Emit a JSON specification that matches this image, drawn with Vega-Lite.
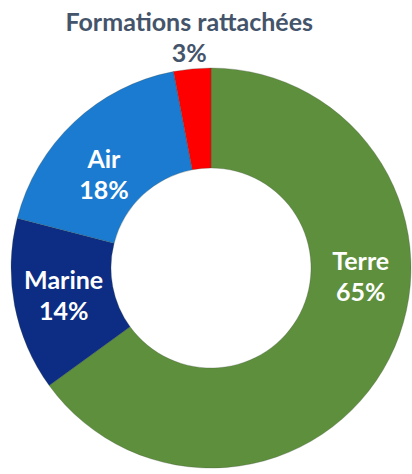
{
  "$schema": "https://vega.github.io/schema/vega-lite/v6.json",
  "width": 402,
  "height": 412,
  "autosize": "none",
  "padding": {"left": 10, "top": 62, "right": 0, "bottom": 0},
  "background": "white",
  "config": {"view": {"stroke": null}},
  "data": {
    "values": [
      {"cat": "Terre", "value": 65, "ord": 1, "label": "Terre\n65%"},
      {"cat": "Marine", "value": 14, "ord": 2, "label": "Marine\n14%"},
      {"cat": "Air", "value": 18, "ord": 3, "label": "Air\n18%"},
      {"cat": "Formations rattachées", "value": 3, "ord": 4, "label": "Formations rattachées\n3%"}
    ]
  },
  "layer": [
    {
      "mark": {"type": "arc", "outerRadius": 200, "innerRadius": 100, "stroke": "#3a4a3a", "strokeOpacity": 0.35, "strokeWidth": 0.8},
      "encoding": {
        "theta": {"field": "value", "type": "quantitative", "stack": true},
        "order": {"field": "ord", "type": "quantitative"},
        "color": {
          "field": "cat",
          "type": "nominal",
          "scale": {
            "domain": ["Terre", "Marine", "Air", "Formations rattachées"],
            "range": ["#5E8F3C", "#0C2D83", "#1A7BD0", "#FF0000"]
          },
          "legend": null
        }
      }
    },
    {
      "mark": {"type": "text", "radius": 150, "dy": -15, "lineBreak": "\n", "font": "Lato", "fontWeight": "bold", "fontSize": 25, "fill": "white", "lineHeight": 31, "baseline": "middle", "align": "center"},
      "encoding": {
        "theta": {"field": "value", "type": "quantitative", "stack": true},
        "order": {"field": "ord", "type": "quantitative"},
        "text": {"condition": {"test": "datum.cat === 'Marine'", "field": "label"}, "value": ""}
      }
    },
    {
      "mark": {"type": "text", "radius": 231, "dy": -15, "lineBreak": "\n", "font": "Lato", "fontWeight": "bold", "fontSize": 25, "fill": "#44546A", "lineHeight": 31, "baseline": "middle", "align": "center"},
      "encoding": {
        "theta": {"field": "value", "type": "quantitative", "stack": true},
        "order": {"field": "ord", "type": "quantitative"},
        "text": {"condition": {"test": "datum.cat === 'Formations rattachées'", "field": "label"}, "value": ""}
      }
    },
    {
      "transform": [{"filter": "datum.cat === 'Terre'"}],
      "mark": {"type": "text", "radius": 150, "dy": -15, "lineBreak": "\n", "font": "Lato", "fontWeight": "bold", "fontSize": 25, "fill": "white", "lineHeight": 31, "baseline": "middle", "align": "center"},
      "encoding": {
        "theta": {"datum": 26, "type": "quantitative"},
        "text": {"field": "label"}
      }
    },
    {
      "transform": [{"filter": "datum.cat === 'Air'"}],
      "mark": {"type": "text", "radius": 142, "dy": -15, "lineBreak": "\n", "font": "Lato", "fontWeight": "bold", "fontSize": 25, "fill": "white", "lineHeight": 31, "baseline": "middle", "align": "center"},
      "encoding": {
        "theta": {"datum": 86.4, "type": "quantitative"},
        "text": {"field": "label"}
      }
    }
  ]
}
